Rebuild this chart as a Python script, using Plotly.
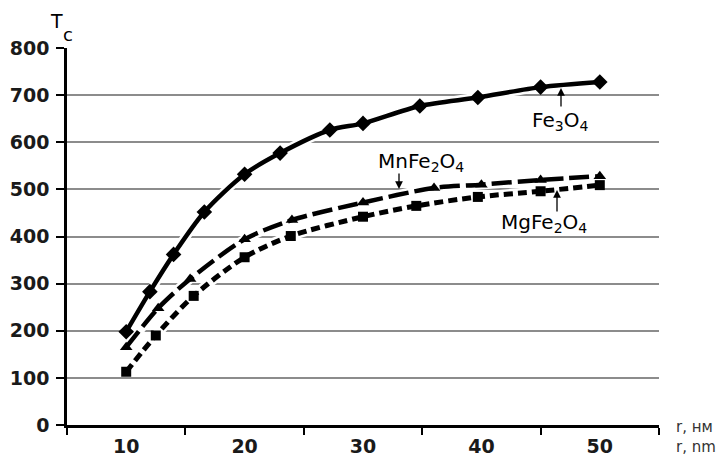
import plotly.graph_objects as go

# ---- data ----
fe3o4_r = [10, 12, 14, 16.6, 20, 23, 27.2, 30, 34.8, 39.7, 45, 50]
fe3o4_t = [198, 283, 362, 452, 532, 577, 626, 640, 677, 695, 717, 728]

mnfe2o4_r = [10, 12.7, 15.4, 20, 24, 30, 36, 40, 45, 50]
mnfe2o4_t = [165, 248, 310, 394, 435, 472, 503, 510, 520, 528]

mgfe2o4_r = [10, 12.5, 15.7, 20, 23.9, 30, 34.5, 39.7, 45, 50]
mgfe2o4_t = [113, 190, 274, 356, 401, 442, 465, 484, 496, 509]

x_tick_vals = [10, 20, 30, 40, 50]
x_tick_text = ["10", "20", "30", "40", "50"]
x_sep_ticks = [5, 15, 25, 35, 45, 55]
y_tick_vals = [0, 100, 200, 300, 400, 500, 600, 700, 800]
y_grid_vals = [100, 200, 300, 400, 500, 600, 700]

FONT = "DejaVu Sans"

fig = go.Figure()

series = [
    (fe3o4_r, fe3o4_t, "solid", "diamond", 12, 4.5, "Fe3O4"),
    (mnfe2o4_r, mnfe2o4_t, "20px,6px", "triangle-up", 11, 4.5, "MnFe2O4"),
    (mgfe2o4_r, mgfe2o4_t, "9px,5px", "square", 10, 5, "MgFe2O4"),
]
for xs, ys, dash, sym, msize, lw, name in series:
    # white halo under the line
    fig.add_trace(go.Scatter(x=xs, y=ys, mode="lines",
                             line=dict(color="white", width=lw + 5, shape="spline", smoothing=0.8),
                             hoverinfo="skip", showlegend=False))
for xs, ys, dash, sym, msize, lw, name in series:
    fig.add_trace(go.Scatter(x=xs, y=ys, mode="lines+markers", name=name,
                             line=dict(color="black", width=lw, dash=dash, shape="spline", smoothing=0.8),
                             marker=dict(symbol=sym, size=msize, color="black"),
                             showlegend=False))

# page has an 8px body margin, so figure coordinates are offset by 8px
W, H = 724, 457
ml, mr, mt, mb = 59, 73, 40, 40
pw, ph = W - ml - mr, H - mt - mb
OFF = 8


def px(xp):  # screen pixel -> paper x
    return (xp - OFF - ml) / pw


def py(yp):  # screen pixel -> paper y
    return (H - mb - (yp - OFF)) / ph


annotations = []
# axis title T_c
annotations.append(dict(xref="paper", yref="paper", x=px(56.5), y=py(20.5), text="T",
                        xanchor="center", yanchor="middle",
                        showarrow=False, font=dict(family=FONT, size=19, color="black")))
annotations.append(dict(xref="paper", yref="paper", x=px(68), y=py(34), text="c",
                        xanchor="center", yanchor="middle",
                        showarrow=False, font=dict(family=FONT, size=18, color="black")))
# x axis title (two languages, stacked)
annotations.append(dict(xref="paper", yref="paper", x=px(674), y=py(437), text="r, нм<br>r, nm",
                        xanchor="left", yanchor="middle", align="left", showarrow=False,
                        font=dict(family=FONT, size=15, color="#333")))

# series labels
lab_font = dict(family=FONT, size=20, color="black")
for tx, ty, txt in [(560, 121, "Fe<sub>3</sub>O<sub>4</sub>"),
                    (421, 162, "MnFe<sub>2</sub>O<sub>4</sub>"),
                    (544, 223, "MgFe<sub>2</sub>O<sub>4</sub>")]:
    annotations.append(dict(xref="paper", yref="paper", x=px(tx), y=py(ty), text=txt,
                            xanchor="center", yanchor="middle", showarrow=False, font=lab_font))
# arrows
for tipx, tipy, ay in [(561, 88, 20), (399, 189, -17), (557, 190, 23)]:
    annotations.append(dict(xref="paper", yref="paper", x=px(tipx), y=py(tipy), text="",
                            showarrow=True, ax=0, ay=ay, arrowhead=2, arrowsize=1.2,
                            arrowwidth=1.3, arrowcolor="black", standoff=0, startstandoff=0))

fig.update_layout(
    width=W, height=H,
    margin=dict(l=ml, r=mr, t=mt, b=mb, pad=0, autoexpand=False),
    paper_bgcolor="white", plot_bgcolor="white",
    annotations=annotations,
    xaxis=dict(range=[5, 55], tickmode="array", tickvals=x_tick_vals, ticktext=x_tick_text,
               ticks="", showgrid=False, zeroline=False, automargin=False,
               showline=True, linecolor="black", linewidth=2.5,
               ticklabelstandoff=2,
               tickfont=dict(family=FONT, size=19, color="#1a1a1a", weight="bold"),
               minor=dict(tickmode="array", tickvals=x_sep_ticks, ticks="outside",
                          ticklen=7, tickwidth=2, tickcolor="black", showgrid=False)),
    yaxis=dict(range=[0, 800], tickmode="array", tickvals=y_tick_vals,
               ticks="outside", ticklen=8, tickwidth=2, tickcolor="black",
               showgrid=False, zeroline=False, automargin=False,
               showline=True, linecolor="black", linewidth=2.5,
               ticklabelstandoff=3,
               tickfont=dict(family=FONT, size=19, color="#1a1a1a", weight="bold"),
               minor=dict(tickmode="array", tickvals=y_grid_vals, ticks="",
                          showgrid=True, gridcolor="#8c8c8c", gridwidth=1.5)),
)

fig.write_html("out.html")
